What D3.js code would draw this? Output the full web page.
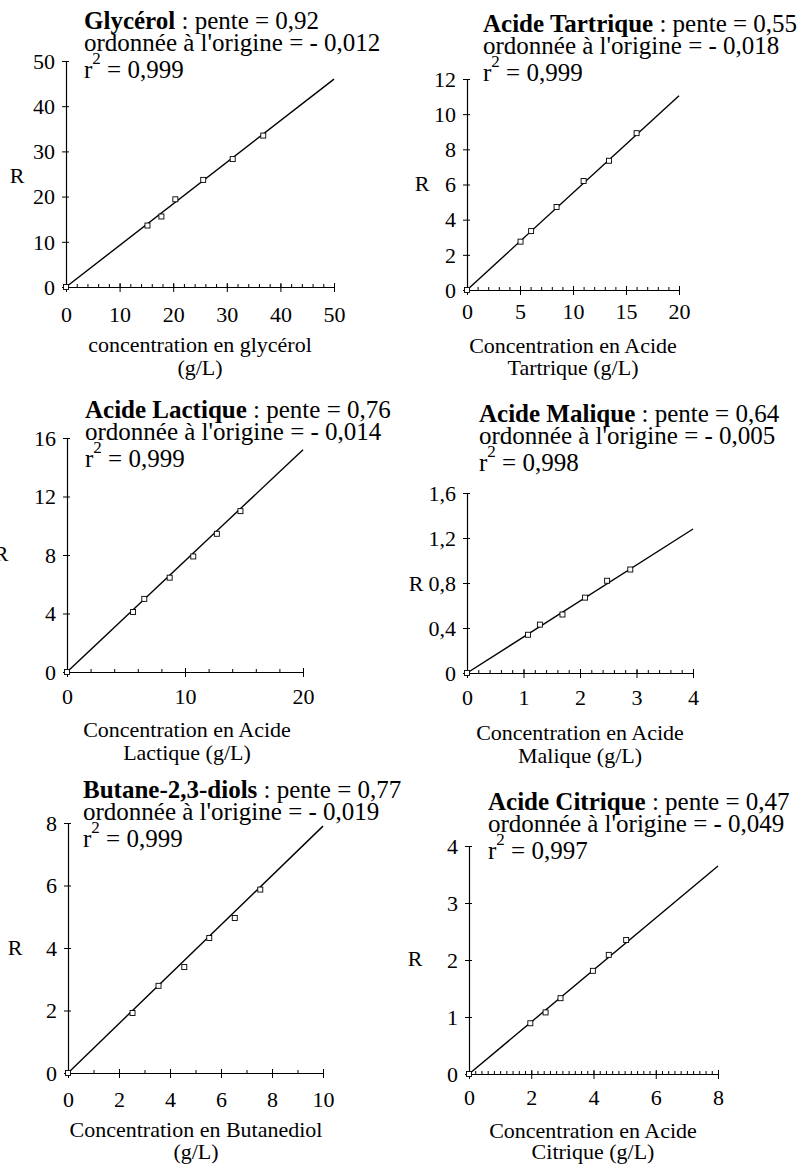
<!DOCTYPE html>
<html>
<head>
<meta charset="utf-8">
<script src="https://cdn.jsdelivr.net/npm/d3@7"></script>
<style>
  body { margin: 0; background: #fff; }
  svg text { font-family: "Liberation Serif", "Times New Roman", serif; }
</style>
</head>
<body>
<div id="chart"></div>
<script>
// data
const compounds = ["Glycérol", "Acide Tartrique", "Acide Lactique", "Acide Malique", "Butane-2,3-diols", "Acide Citrique"];
const slopes = ["0,92", "0,55", "0,76", "0,64", "0,77", "0,47"];
const intercepts = ["- 0,012", "- 0,018", "- 0,014", "- 0,005", "- 0,019", "- 0,049"];
const r2Values = ["0,999", "0,999", "0,999", "0,998", "0,999", "0,997"];
const xTitles = [
  ["concentration en glycérol", "(g/L)"],
  ["Concentration en Acide", "Tartrique (g/L)"],
  ["Concentration en Acide", "Lactique (g/L)"],
  ["Concentration en Acide", "Malique (g/L)"],
  ["Concentration en Butanediol", "(g/L)"],
  ["Concentration en Acide", "Citrique (g/L)"]
];

const xTicks = [
  [0, 10, 20, 30, 40, 50],
  [0, 5, 10, 15, 20],
  [0, 10, 20],
  [0, 1, 2, 3, 4],
  [0, 2, 4, 6, 8, 10],
  [0, 2, 4, 6, 8]
];
const xMinorStep = [2, 1, 2, 0.2, 1, 0.2];
const yTicks = [
  [0, 10, 20, 30, 40, 50],
  [0, 2, 4, 6, 8, 10, 12],
  [0, 4, 8, 12, 16],
  [0, 0.4, 0.8, 1.2, 1.6],
  [0, 2, 4, 6, 8],
  [0, 1, 2, 3, 4]
];

// measured points (concentration, R)
const glycerolX = [0, 15.2, 17.8, 20.4, 25.6, 31.1, 36.8];
const glycerolR = [0, 13.6, 15.6, 19.4, 23.7, 28.3, 33.5];
const tartriqueX = [0, 5.05, 6.05, 8.45, 11.0, 13.4, 16.0];
const tartriqueR = [0, 2.75, 3.35, 4.72, 6.2, 7.35, 8.92];
const lactiqueX = [0, 5.6, 6.55, 8.7, 10.7, 12.7, 14.7];
const lactiqueR = [0, 4.1, 5.0, 6.45, 7.9, 9.45, 11.0];
const maliqueX = [0, 1.08, 1.29, 1.69, 2.09, 2.48, 2.89];
const maliqueR = [0, 0.34, 0.43, 0.52, 0.67, 0.82, 0.92];
const butanediolX = [0, 2.53, 3.55, 4.56, 5.54, 6.54, 7.54];
const butanediolR = [0, 1.92, 2.79, 3.39, 4.32, 4.96, 5.87];
const citriqueX = [0, 1.97, 2.46, 2.94, 3.98, 4.49, 5.05];
const citriqueR = [0, 0.89, 1.08, 1.33, 1.81, 2.09, 2.35];

const pointsX = [glycerolX, tartriqueX, lactiqueX, maliqueX, butanediolX, citriqueX];
const pointsR = [glycerolR, tartriqueR, lactiqueR, maliqueR, butanediolR, citriqueR];

// regression line drawn from origin to this end point
const fitEndX = [50, 20, 20, 4, 10, 8];
const fitEndR = [46, 11.05, 15.2, 1.28, 7.9, 3.65];

// page layout (pixels)
const layout = [
  { left: 66, right: 334, top: 61, bottom: 287, tx: 84, ty: 29, rx: 17, ry: 175, tickBase: 322, cx: 200, l1: 352, l2: 375 },
  { left: 467, right: 679, top: 79, bottom: 290, tx: 483, ty: 32, rx: 422, ry: 183, tickBase: 319, cx: 573, l1: 353, l2: 375 },
  { left: 67, right: 303, top: 438, bottom: 672, tx: 85, ty: 418, rx: 1, ry: 553, tickBase: 704, cx: 187, l1: 737, l2: 760 },
  { left: 467, right: 693, top: 493, bottom: 673, tx: 479, ty: 422, rx: 416, ry: 583, tickBase: 705, cx: 580, l1: 740, l2: 763 },
  { left: 68, right: 323, top: 823, bottom: 1073, tx: 83, ty: 798, rx: 15, ry: 947, tickBase: 1107, cx: 196, l1: 1137, l2: 1159 },
  { left: 469, right: 718, top: 846, bottom: 1074, tx: 488, ty: 810, rx: 415, ry: 958, tickBase: 1105, cx: 593, l1: 1138, l2: 1159 }
];

const W = 812, H = 1165;
const SERIF = '"Liberation Serif", "Times New Roman", serif';
const fmt = d => String(d).replace(".", ",");

const svg = d3.select("#chart").append("svg")
  .attr("width", W)
  .attr("height", H)
  .attr("font-family", SERIF);

compounds.forEach((name, i) => {
  const L = layout[i];
  const xMax = xTicks[i][xTicks[i].length - 1];
  const yMax = yTicks[i][yTicks[i].length - 1];

  const x = d3.scaleLinear().domain([0, xMax]).range([L.left, L.right]);
  const y = d3.scaleLinear().domain([0, yMax]).range([L.bottom, L.top]);

  const g = svg.append("g");

  // minor x ticks pointing up
  const minor = d3.range(0, xMax + 1e-9, xMinorStep[i]);
  g.append("g")
    .attr("transform", `translate(0,${L.bottom})`)
    .call(d3.axisBottom(x).tickValues(minor).tickSize(-3).tickFormat(""))
    .call(a => a.select(".domain").remove())
    .selectAll("line").attr("stroke", "#000");

  // x axis
  const xa = g.append("g")
    .attr("transform", `translate(0,${L.bottom})`)
    .call(d3.axisBottom(x).tickValues(xTicks[i]).tickSize(5).tickSizeOuter(0).tickFormat(fmt))
    .attr("font-family", SERIF)
    .attr("font-size", 22);
  xa.select(".domain").attr("stroke", "#000").attr("stroke-width", 1.2);
  xa.selectAll(".tick line").attr("y1", -4).attr("stroke", "#000");
  xa.selectAll(".tick text")
    .attr("y", L.tickBase - L.bottom).attr("dy", 0)
    .attr("fill", "#000");

  // y axis
  const ya = g.append("g")
    .attr("transform", `translate(${L.left},0)`)
    .call(d3.axisLeft(y).tickValues(yTicks[i]).tickSize(4).tickSizeOuter(0).tickPadding(7).tickFormat(fmt))
    .attr("font-family", SERIF)
    .attr("font-size", 22);
  ya.select(".domain").attr("stroke", "#000").attr("stroke-width", 1.2);
  ya.selectAll(".tick line").attr("x1", 3).attr("stroke", "#000");
  ya.selectAll(".tick text")
    .attr("fill", "#000")
    .attr("dy", "0.33em");

  // fit line
  g.append("line")
    .attr("x1", x(0)).attr("y1", y(0))
    .attr("x2", x(fitEndX[i])).attr("y2", y(fitEndR[i]))
    .attr("stroke", "#000")
    .attr("stroke-width", 1.4);

  // points: small open squares
  const pts = pointsX[i].map((v, k) => ({ c: v, r: pointsR[i][k] }));
  g.selectAll("rect.pt")
    .data(pts)
    .enter()
    .append("rect")
    .attr("class", "pt")
    .attr("x", d => x(d.c) - 2.5)
    .attr("y", d => y(d.r) - 2.5)
    .attr("width", 5)
    .attr("height", 5)
    .attr("fill", "#fff")
    .attr("stroke", "#000")
    .attr("stroke-width", 0.9);

  // "R" y label
  g.append("text")
    .attr("x", L.rx).attr("y", L.ry)
    .attr("dy", "0.35em")
    .attr("text-anchor", "middle")
    .attr("font-size", 22)
    .text("R");

  // x axis title, two lines
  g.append("text")
    .attr("x", L.cx).attr("y", L.l1)
    .attr("text-anchor", "middle")
    .attr("font-size", 22)
    .text(xTitles[i][0]);
  g.append("text")
    .attr("x", L.cx).attr("y", L.l2)
    .attr("text-anchor", "middle")
    .attr("font-size", 22)
    .text(xTitles[i][1]);

  // regression text block
  const t1 = g.append("text")
    .attr("x", L.tx).attr("y", L.ty)
    .attr("font-size", 25);
  t1.append("tspan").attr("font-weight", "bold").text(name);
  t1.append("tspan").text(" : pente = " + slopes[i]);

  g.append("text")
    .attr("x", L.tx).attr("y", L.ty + 22)
    .attr("font-size", 25)
    .text("ordonnée à l'origine = " + intercepts[i]);

  const t3 = g.append("text")
    .attr("x", L.tx).attr("y", L.ty + 49)
    .attr("font-size", 25);
  t3.append("tspan").text("r");
  t3.append("tspan").attr("dy", -14).attr("font-size", 17).text("2");
  t3.append("tspan").attr("dy", 14).text(" = " + r2Values[i]);
});
</script>
</body>
</html>
